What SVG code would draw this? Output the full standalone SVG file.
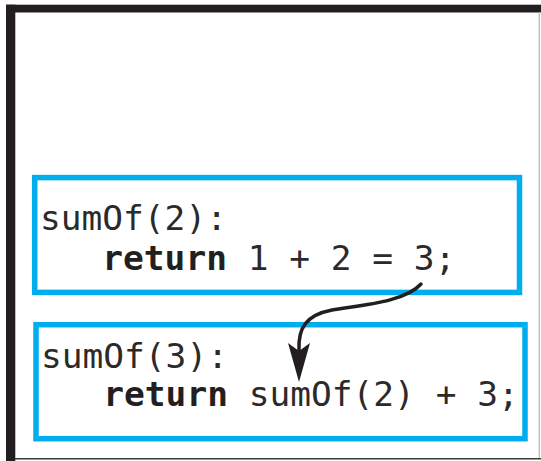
<svg xmlns="http://www.w3.org/2000/svg" width="541" height="461" viewBox="0 0 541 461">
<style>
.box{fill:none;stroke:#00AEEF;stroke-width:5.5}
.code{font-family:"DejaVu Sans Mono","Liberation Mono",monospace;font-size:34.5px;fill:#2B2A29}
.kw{font-weight:bold;fill:#231F20}
.conn{fill:none;stroke:#231F20;stroke-width:3.5;stroke-linecap:round}
</style>
<rect width="541" height="461" fill="#ffffff"/>
<g id="frame">
<rect x="6" y="4.7" width="535" height="7.8" fill="#231F20"/>
<rect x="6" y="4.7" width="9.3" height="456.3" fill="#231F20"/>
<line x1="15" y1="458.8" x2="541" y2="458.8" stroke="#3a3a3a" stroke-width="1.5"/>
<line x1="539.3" y1="12" x2="539.3" y2="458" stroke="#bdbdbd" stroke-width="1.3"/>
</g>
<g id="frame-sumOf2">
<rect class="box" x="34.7" y="177.6" width="484.8" height="114.8"/>
<text class="code" x="40" y="230">sumOf(2):</text>
<text class="code" x="40" y="270" xml:space="preserve">   <tspan class="kw">return</tspan> 1 + 2 = 3;</text>
</g>
<g id="frame-sumOf3">
<rect class="box" x="36" y="324.7" width="489" height="114"/>
<text class="code" x="41" y="368">sumOf(3):</text>
<text class="code" x="41" y="406" xml:space="preserve">   <tspan class="kw">return</tspan> sumOf(2) + 3;</text>
</g>
<g id="connectors">
<path class="conn" d="M421,284 C405,302 362,305 332,310 C306,315 298,328 299,350"/>
<polygon points="299,382 288,343 299,351 310,343" fill="#231F20"/>
</g>
</svg>
